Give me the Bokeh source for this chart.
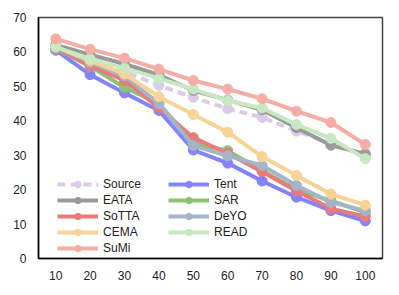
from bokeh.plotting import figure
from bokeh.models import Legend, LegendItem, FactorRange, Range1d, FixedTicker
from bokeh.embed import file_html
from bokeh.resources import INLINE

categories = ["10", "20", "30", "40", "50", "60", "70", "80", "90", "100"]

source = [61.5, 58.3, 54.3, 50.3, 46.8, 43.5, 41.0, 37.0, 33.3, 30.0]
tent = [60.5, 53.4, 48.1, 43.0, 31.5, 27.7, 22.5, 17.8, 13.9, 10.9]
eata = [62.0, 59.2, 56.5, 53.3, 48.8, 46.0, 43.2, 38.0, 32.9, 30.4]
sar = [61.0, 55.8, 49.7, 45.0, 33.5, 31.3, 25.5, 20.0, 16.8, 13.4]
sotta = [61.2, 56.0, 51.7, 43.8, 35.1, 30.5, 25.2, 19.6, 14.5, 12.2]
deyo = [61.5, 57.0, 53.0, 45.0, 32.8, 29.8, 27.0, 21.2, 16.3, 13.9]
cema = [61.5, 57.5, 53.6, 47.0, 41.8, 36.7, 29.6, 24.1, 18.7, 15.5]
read = [61.4, 58.0, 55.3, 52.3, 49.2, 45.8, 43.7, 38.9, 34.9, 29.0]
sumi = [63.8, 60.8, 58.2, 55.0, 51.7, 49.2, 46.4, 42.8, 39.5, 33.1]

y_ticks = [0, 10, 20, 30, 40, 50, 60, 70]

series = [
    ("Source", source, "#dccbe6", "dashed"),
    ("Tent", tent, "#8383fb", "solid"),
    ("EATA", eata, "#9a9a9a", "solid"),
    ("SAR", sar, "#8dc173", "solid"),
    ("SoTTA", sotta, "#e97b7b", "solid"),
    ("DeYO", deyo, "#a5b4c6", "solid"),
    ("CEMA", cema, "#f8d396", "solid"),
    ("READ", read, "#c8e8c2", "solid"),
    ("SuMi", sumi, "#f4aea6", "solid"),
]

p = figure(width=399, height=295, output_backend="svg", toolbar_location=None,
           x_range=FactorRange(*categories, range_padding=0),
           y_range=Range1d(0, 70),
           min_border_left=38, min_border_top=17, min_border_right=17, min_border_bottom=37)

p.xgrid.visible = False
p.ygrid.visible = False
p.outline_line_color = "#444444"
p.outline_line_width = 1.5

for ax in (p.xaxis, p.yaxis):
    ax.major_tick_out = 0
    ax.major_tick_in = 0
    ax.minor_tick_out = 0
    ax.minor_tick_in = 0
    ax.axis_line_color = "black"
    ax.axis_line_width = 1.5
    ax.major_label_text_font = "Liberation Sans"
    ax.major_label_text_font_size = "12px"
    ax.major_label_text_color = "#222222"
    ax.major_label_standoff = 12
p.yaxis.ticker = FixedTicker(ticks=y_ticks)

items = {}
for name, vals, color, dash in series:
    lr = p.line(categories, vals, line_color=color, line_width=4,
                line_dash=("8 5" if dash == "dashed" else "solid"))
    sr = p.scatter(categories, vals, size=10, fill_color=color, line_color=color)
    items[name] = LegendItem(label=name, renderers=[lr, sr])

def make_legend(names, loc):
    lg = Legend(items=[items[n] for n in names], location=loc,
                orientation="vertical", margin=0, padding=0, spacing=0,
                glyph_width=41, glyph_height=16, label_height=16,
                label_standoff=5, label_text_font="Liberation Sans",
                label_text_font_size="12px", label_text_color="#222222",
                background_fill_alpha=0, border_line_alpha=0)
    return lg

p.add_layout(make_legend(["Source", "EATA", "SoTTA", "CEMA", "SuMi"], (19, 2)))
p.add_layout(make_legend(["Tent", "SAR", "DeYO", "READ"], (130, 18)))

open("out.html", "w").write(file_html(p, INLINE))
